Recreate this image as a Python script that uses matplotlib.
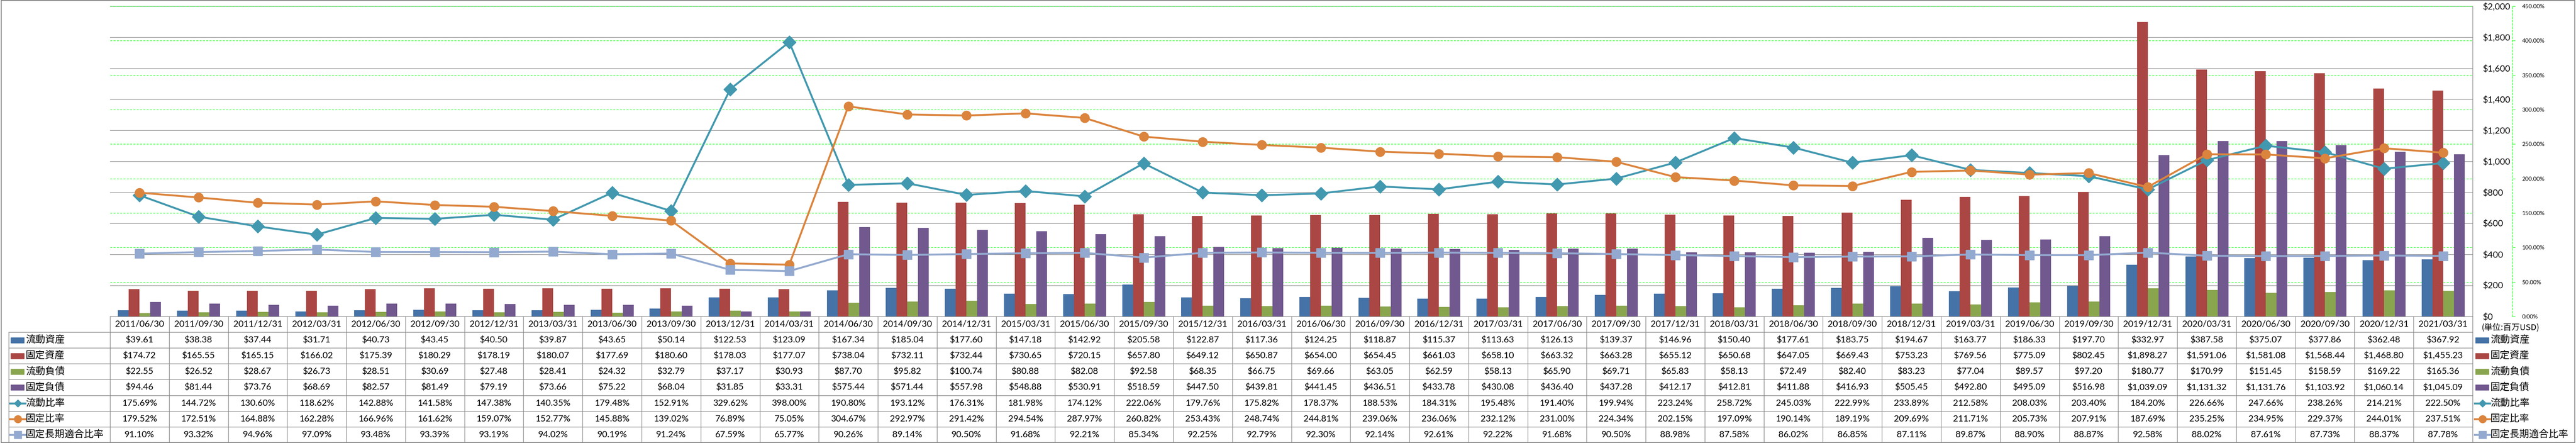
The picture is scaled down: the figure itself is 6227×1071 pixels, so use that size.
import matplotlib
matplotlib.use("Agg")
import matplotlib.pyplot as plt
from matplotlib.lines import Line2D
from matplotlib.patches import Rectangle
from matplotlib.transforms import blended_transform_factory
import numpy as np

plt.rcParams["font.family"] = ["Lato", "Noto Sans CJK JP", "DejaVu Sans"]

# ---- data (百万USD / %) ----
dates = [
    "2011/06/30", "2011/09/30", "2011/12/31", "2012/03/31", "2012/06/30",
    "2012/09/30", "2012/12/31", "2013/03/31", "2013/06/30", "2013/09/30",
    "2013/12/31", "2014/03/31", "2014/06/30", "2014/09/30", "2014/12/31",
    "2015/03/31", "2015/06/30", "2015/09/30", "2015/12/31", "2016/03/31",
    "2016/06/30", "2016/09/30", "2016/12/31", "2017/03/31", "2017/06/30",
    "2017/09/30", "2017/12/31", "2018/03/31", "2018/06/30", "2018/09/30",
    "2018/12/31", "2019/03/31", "2019/06/30", "2019/09/30", "2019/12/31",
    "2020/03/31", "2020/06/30", "2020/09/30", "2020/12/31", "2021/03/31",
]
current_assets = [
    39.61, 38.38, 37.44, 31.71, 40.73, 43.45, 40.50, 39.87, 43.65, 50.14,
    122.53, 123.09, 167.34, 185.04, 177.60, 147.18, 142.92, 205.58, 122.87, 117.36,
    124.25, 118.87, 115.37, 113.63, 126.13, 139.37, 146.96, 150.40, 177.61, 183.75,
    194.67, 163.77, 186.33, 197.70, 332.97, 387.58, 375.07, 377.86, 362.48, 367.92,
]
fixed_assets = [
    174.72, 165.55, 165.15, 166.02, 175.39, 180.29, 178.19, 180.07, 177.69, 180.60,
    178.03, 177.07, 738.04, 732.11, 732.44, 730.65, 720.15, 657.80, 649.12, 650.87,
    654.00, 654.45, 661.03, 658.10, 663.32, 663.28, 655.12, 650.68, 647.05, 669.43,
    753.23, 769.56, 775.09, 802.45, 1898.27, 1591.06, 1581.08, 1568.44, 1468.80, 1455.23,
]
current_liab = [
    22.55, 26.52, 28.67, 26.73, 28.51, 30.69, 27.48, 28.41, 24.32, 32.79,
    37.17, 30.93, 87.70, 95.82, 100.74, 80.88, 82.08, 92.58, 68.35, 66.75,
    69.66, 63.05, 62.59, 58.13, 65.90, 69.71, 65.83, 58.13, 72.49, 82.40,
    83.23, 77.04, 89.57, 97.20, 180.77, 170.99, 151.45, 158.59, 169.22, 165.36,
]
fixed_liab = [
    94.46, 81.44, 73.76, 68.69, 82.57, 81.49, 79.19, 73.66, 75.22, 68.04,
    31.85, 33.31, 575.44, 571.44, 557.98, 548.88, 530.91, 518.59, 447.50, 439.81,
    441.45, 436.51, 433.78, 430.08, 436.40, 437.28, 412.17, 412.81, 411.88, 416.93,
    505.45, 492.80, 495.09, 516.98, 1039.09, 1131.32, 1131.76, 1103.92, 1060.14, 1045.09,
]
current_ratio = [
    175.69, 144.72, 130.60, 118.62, 142.88, 141.58, 147.38, 140.35, 179.48, 152.91,
    329.62, 398.00, 190.80, 193.12, 176.31, 181.98, 174.12, 222.06, 179.76, 175.82,
    178.37, 188.53, 184.31, 195.48, 191.40, 199.94, 223.24, 258.72, 245.03, 222.99,
    233.89, 212.58, 208.03, 203.40, 184.20, 226.66, 247.66, 238.26, 214.21, 222.50,
]
fixed_ratio = [
    179.52, 172.51, 164.88, 162.28, 166.96, 161.62, 159.07, 152.77, 145.88, 139.02,
    76.89, 75.05, 304.67, 292.97, 291.42, 294.54, 287.97, 260.82, 253.43, 248.74,
    244.81, 239.06, 236.06, 232.12, 231.00, 224.34, 202.15, 197.09, 190.14, 189.19,
    209.69, 211.71, 205.73, 207.91, 187.69, 235.25, 234.95, 229.37, 244.01, 237.51,
]
fixed_lt_ratio = [
    91.10, 93.32, 94.96, 97.09, 93.48, 93.39, 93.19, 94.02, 90.19, 91.24,
    67.59, 65.77, 90.26, 89.14, 90.50, 91.68, 92.21, 85.34, 92.25, 92.79,
    92.30, 92.14, 92.61, 92.22, 91.68, 90.50, 88.98, 87.58, 86.02, 86.85,
    87.11, 89.87, 88.90, 88.87, 92.58, 88.02, 87.61, 87.73, 88.37, 87.78,
]

bar_names = ["流動資産", "固定資産", "流動負債", "固定負債"]
bar_series = [current_assets, fixed_assets, current_liab, fixed_liab]
bar_colors = ["#4572A7", "#AA4643", "#89A54E", "#71588F"]
line_names = ["流動比率", "固定比率", "固定長期適合比率"]
line_series = [current_ratio, fixed_ratio, fixed_lt_ratio]
line_colors = ["#4198AF", "#DB843D", "#93A9CF"]
line_markers = ["D", "o", "s"]
line_ms = [16, 16, 15.5]
key_ms = [9.5, 13, 12.5]

W, H = 6227, 1071
fig = plt.figure(figsize=(W / 100, H / 100), dpi=100)


def fx(px):
    return px / W


def fy(py):
    return 1 - py / H


PL, PR, PT, PB = 266, 5977, 15, 765
GRAY = "#868686"
LIME = "#00FF00"
FS = 15.5
CJK = ["Noto Sans CJK JP", "DejaVu Sans"]
DASH = (0, (4.5, 2.7))  # scaled by line width

ax = fig.add_axes([fx(PL), fy(PB), fx(PR) - fx(PL), fy(PT) - fy(PB)])
ax2 = ax.twinx()

n = len(dates)
x = np.arange(n)
ax.set_xlim(-0.5, n - 0.5)
ax.set_ylim(0, 2000)
ax.set_xticks([])
usd_ticks = np.arange(0, 2001, 200)
ax.set_yticks(usd_ticks)
ax.set_yticklabels([f"${v:,.0f}" for v in usd_ticks], fontsize=FS)
ax.yaxis.tick_right()
ax.tick_params(axis="y", length=0, pad=18)
for s in ["left", "top", "bottom"]:
    ax.spines[s].set_visible(False)
ax.spines["right"].set_color(GRAY)
ax.spines["right"].set_linewidth(0.9)
ax.grid(axis="y", color=GRAY, lw=0.9, zorder=0.5)
ax.set_axisbelow(True)

ax2.set_ylim(0, 450)
pct_ticks = np.arange(0, 451, 50)
ax2.set_yticks(pct_ticks)
ax2.set_yticklabels([f"{v:.2f}%" for v in pct_ticks], fontsize=FS)
for s in ["left", "top", "bottom"]:
    ax2.spines[s].set_visible(False)
ax2.spines["right"].set_position(("outward", 69))
ax2.spines["right"].set_color(LIME)
ax2.spines["right"].set_linewidth(0.8)
ax2.spines["right"].set_linestyle(DASH)
ax2.tick_params(axis="y", length=5, width=0.8, color=LIME, pad=12)

# green dashed gridlines for the % axis, kept under the bars
trans_pct = blended_transform_factory(ax.transAxes, ax2.transData)
for p in pct_ticks[1:]:
    ax.plot([0, 1], [p, p], transform=trans_pct, color=LIME, lw=0.8,
            ls=DASH, zorder=0.6)

bw = 26 / ((PR - PL) / n)
for k, (vals, c) in enumerate(zip(bar_series, bar_colors)):
    ax.bar(x + (k - 1.5) * bw, vals, width=bw, color=c, zorder=2)

for vals, c, m, ms in zip(line_series, line_colors, line_markers, line_ms):
    ax2.plot(x, vals, color=c, lw=3.3, marker=m, ms=ms, mfc=c, mec=c,
             zorder=3, clip_on=False)

# ---- data table under the plot ----
tb = blended_transform_factory(ax.transData, fig.transFigure)
ff = fig.transFigure
TBL_L = 21
row_edges = np.linspace(803, 1070, 8)
xl, xr = -0.5, n - 0.5


def hline(y, x0, x1, trans):
    fig.add_artist(Line2D([x0, x1], [fy(y), fy(y)], transform=trans,
                          color=GRAY, lw=1.0))


def vline(xv, y0, y1, trans):
    fig.add_artist(Line2D([xv, xv], [fy(y0), fy(y1)], transform=trans,
                          color=GRAY, lw=1.0))


hline(PB, xl, xr, tb)
for y in row_edges:
    hline(y, xl, xr, tb)
    hline(y, fx(TBL_L), fx(PL), ff)
for i in range(n + 1):
    vline(i - 0.5, PB, 1070, tb)
vline(fx(TBL_L), 803, 1070, ff)

for i, d in enumerate(dates):
    fig.text(i, fy((PB + 803) / 2), d, transform=tb, ha="center", va="center",
             fontsize=FS)

row_vals = bar_series + line_series
for r, vals in enumerate(row_vals):
    ym = fy((row_edges[r] + row_edges[r + 1]) / 2)
    for i, v in enumerate(vals):
        s = f"${v:,.2f}" if r < 4 else f"{v:.2f}%"
        fig.text(i, ym, s, transform=tb, ha="center", va="center", fontsize=FS)


def legend_key(xk, r):
    ymid = (row_edges[r] + row_edges[r + 1]) / 2
    if r < 4:
        fig.add_artist(Rectangle((fx(xk + 2), fy(ymid + 6.5)), fx(32), 13 / H,
                                 transform=ff, color=bar_colors[r]))
    else:
        j = r - 4
        fig.add_artist(Line2D([fx(xk), fx(xk + 37)], [fy(ymid), fy(ymid)],
                              transform=ff, color=line_colors[j], lw=3.3))
        fig.add_artist(Line2D([fx(xk + 18.5)], [fy(ymid)], transform=ff,
                              color=line_colors[j], marker=line_markers[j],
                              ms=key_ms[j], mec=line_colors[j]))
    return fy(ymid)


names = bar_names + line_names
for r, name in enumerate(names):
    ym = legend_key(24, r)
    fig.text(fx(62), ym, name, transform=ff, ha="left", va="center",
             fontsize=17, family=CJK)
    ym = legend_key(5982, r)
    fig.text(fx(6020), ym, name, transform=ff, ha="left", va="center",
             fontsize=17, family=CJK)

fig.text(fx(5998), fy(793), "(単位:百万USD)", ha="left", va="center",
         fontsize=14.5, family=CJK)

fig.add_artist(Rectangle((0.0005, 0.001), 0.999, 0.998, transform=ff,
                         fill=False, edgecolor=GRAY, lw=1.5))

fig.savefig("out.png", dpi=100, facecolor="white")
